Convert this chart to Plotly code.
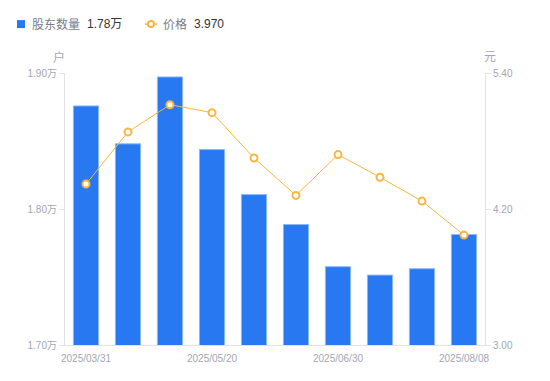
import plotly.graph_objects as go

dates = ["2025/03/31", "2025/04/10", "2025/04/30", "2025/05/20", "2025/05/30",
         "2025/06/10", "2025/06/30", "2025/07/10", "2025/07/31", "2025/08/08"]
holders = [18758, 18479, 18971, 18437, 18106, 17886, 17576, 17514, 17561, 17813]
prices = [4.42, 4.88, 5.12, 5.05, 4.65, 4.32, 4.68, 4.48, 4.27, 3.97]
shown_dates = ["2025/03/31", "2025/05/20", "2025/06/30", "2025/08/08"]
left_ticks = [17000, 18000, 19000]
left_tick_text = ["1.70万", "1.80万", "1.90万"]
right_ticks = [3.0, 4.2, 5.4]
right_tick_text = ["3.00", "4.20", "5.40"]

FONT = "Liberation Sans, Noto Sans CJK SC, sans-serif"
BLUE = "#2878F2"
ORANGE = "#F7B542"
TICK = "#A3A6B4"
AXIS = "#E3E3E6"

fig = go.Figure()
fig.add_trace(go.Bar(
    x=dates, y=holders, yaxis="y", width=0.6,
    marker=dict(color=BLUE, line=dict(color="#8DB8F8", width=1)),
    showlegend=False,
))
fig.add_trace(go.Scatter(
    x=dates, y=prices, yaxis="y2", mode="lines+markers",
    line=dict(color=ORANGE, width=1),
    marker=dict(color="white", size=7, line=dict(color=ORANGE, width=2)),
    showlegend=False,
))

# the page body has an 8px margin; compensate so the plot sits where the reference has it
OFF = 8
W, H = 550 - OFF, 381 - OFF
L, R, T, B = 65 - OFF, 550 - 485, 73 - OFF, 381 - 345.5
pw, ph = W - L - R, H - T - B

def px(x):
    return (x - OFF - L) / pw

def py(y):
    return (H - B - (y - OFF)) / ph

shapes = [
    dict(type="rect", xref="paper", yref="paper",
         x0=px(17), x1=px(25), y0=py(28), y1=py(20),
         fillcolor=BLUE, line=dict(width=0)),
    dict(type="line", xref="paper", yref="paper",
         x0=px(145), x1=px(157), y0=py(24), y1=py(24),
         line=dict(color=ORANGE, width=1.5)),
    dict(type="circle", xref="paper", yref="paper",
         x0=px(148), x1=px(154), y0=py(27), y1=py(21),
         fillcolor="white", line=dict(color=ORANGE, width=2)),
]

annotations = [
    dict(text="股东数量", x=px(30), y=py(24), xref="paper", yref="paper",
         xanchor="left", yanchor="middle", showarrow=False,
         font=dict(size=12, color="#7A7D89", family=FONT)),
    dict(text="1.78万", x=px(85), y=py(24), xref="paper", yref="paper",
         xanchor="left", yanchor="middle", showarrow=False,
         font=dict(size=12, color="#333333", family=FONT)),
    dict(text="价格", x=px(161), y=py(24), xref="paper", yref="paper",
         xanchor="left", yanchor="middle", showarrow=False,
         font=dict(size=12, color="#7A7D89", family=FONT)),
    dict(text="3.970", x=px(192), y=py(24), xref="paper", yref="paper",
         xanchor="left", yanchor="middle", showarrow=False,
         font=dict(size=12, color="#333333", family=FONT)),
    dict(text="户", x=px(59), y=py(57), xref="paper", yref="paper",
         xanchor="center", yanchor="middle", showarrow=False,
         font=dict(size=12, color=TICK, family=FONT)),
    dict(text="元", x=px(490), y=py(57), xref="paper", yref="paper",
         xanchor="center", yanchor="middle", showarrow=False,
         font=dict(size=12, color=TICK, family=FONT)),
]

fig.update_layout(
    template="none",
    width=W, height=H,
    margin=dict(l=L, r=R, t=T, b=B, pad=0),
    paper_bgcolor="white", plot_bgcolor="white",
    font=dict(family=FONT, size=10, color=TICK),
    xaxis=dict(
        type="category", range=[-0.5, len(dates) - 0.5],
        tickmode="array", tickvals=shown_dates, ticktext=shown_dates,
        showline=True, linecolor=AXIS, linewidth=1, showgrid=False, ticks="",
        ticklabelstandoff=4,
        tickfont=dict(size=10, color=TICK), zeroline=False, automargin=False,
    ),
    yaxis=dict(
        range=[17000, 19000], tickmode="array", tickvals=left_ticks, ticktext=left_tick_text,
        showline=True, linecolor=AXIS, linewidth=1, showgrid=False,
        ticks="outside", ticklen=5, tickcolor=AXIS, tickfont=dict(size=10, color=TICK),
        zeroline=False, automargin=False,
    ),
    yaxis2=dict(
        range=[3.0, 5.4], overlaying="y", side="right", tickmode="array",
        tickvals=right_ticks, ticktext=right_tick_text,
        showline=True, linecolor=AXIS, linewidth=1, showgrid=False,
        ticks="outside", ticklen=5, tickcolor=AXIS, tickfont=dict(size=10, color=TICK),
        zeroline=False, automargin=False,
    ),
    shapes=shapes,
    annotations=annotations,
)

fig.write_html("out.html")
